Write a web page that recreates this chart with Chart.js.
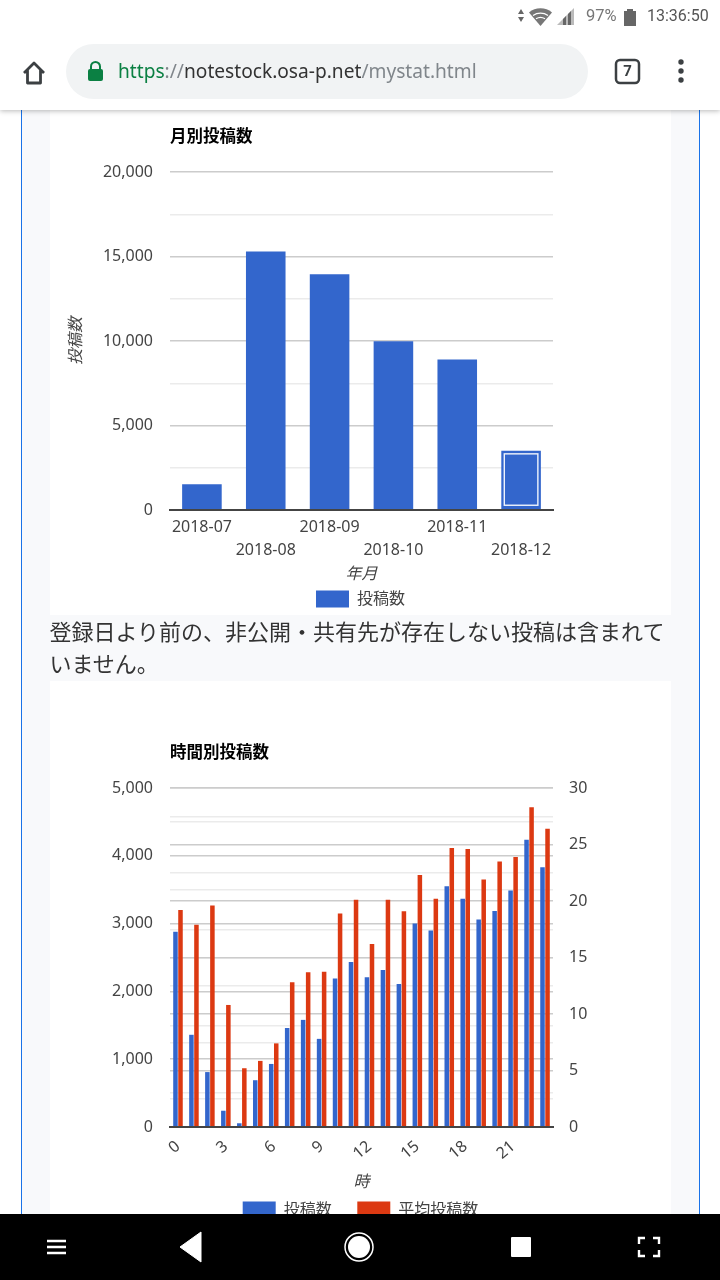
<!DOCTYPE html>
<html lang="ja">
<head>
<meta charset="utf-8">
<script src="https://cdn.jsdelivr.net/npm/chart.js@4"></script>
<style>
html,body{margin:0;padding:0;width:720px;height:1280px;overflow:hidden;background:#fff;font-family:"Noto Sans","Noto Sans CJK JP",sans-serif}
.abs{position:absolute}
#panel{left:21px;top:110px;width:677px;height:1104px;background:#f8f9fb;border-left:1.5px solid #1a73e8;border-right:1.5px solid #1a73e8}
.card{position:absolute;background:#fff;left:50px;width:621px}
#c1{left:50px;top:110px;width:621px;height:520px}
#c2{left:50px;top:681px;width:621px;height:560px}
canvas{display:block}
#para{left:49.500px;top:614px;width:622px;font:22px/32px "Noto Sans CJK JP",sans-serif;color:#333;white-space:nowrap}
#top{left:0;top:0;width:720px;height:110px;background:#fff;box-shadow:0 1px 5px rgba(0,0,0,.28);z-index:5}
#pill{left:66px;top:44px;width:522px;height:55px;border-radius:28px;background:#f1f3f4}
#url{left:118px;top:57px;font:19.15px/28px "Noto Sans",sans-serif;color:#333;white-space:nowrap}
#nav{left:0;top:1214px;width:720px;height:66px;background:#000;z-index:5}
</style>
</head>
<body>
<div class="abs" id="panel"></div>
<div class="card" style="top:110px;height:505px"></div>
<div class="card" style="top:681px;height:533px"></div>
<div class="abs" id="c1"><canvas id="monthly" width="621" height="520"></canvas></div>
<div class="abs" id="c2"><canvas id="hourly" width="621" height="560"></canvas></div>
<div class="abs" id="para">登録日より前の、非公開・共有先が存在しない投稿は含まれて<br>いません。</div>

<div class="abs" id="top">
  <div class="abs" id="pill"></div>
  <svg class="abs" style="left:0;top:0" width="720" height="110" fill="none">
    <path d="M518 14l3-5 3 5zM518 17l3 5 3-5z" fill="#666"/>
    <path d="M529 12.5a18 18 0 0 1 23 0l-11.5 13.5z" fill="#777"/>
    <path d="M533 15.5a13 13 0 0 1 15 0M536 18.8a8 8 0 0 1 9 0" stroke="#fff" stroke-width="1.2"/>
    <path d="M557 25l17-17v17z" fill="#bbb"/><path d="M563 25v-6l3-3v9zM568 25v-11l3-3v14z" fill="#666"/>
    <path d="M624 11h3v-2h6v2h3v15h-12z" fill="#666"/>
    <path d="M24 72l10-10 10 10M27.500 69v13h13v-13" stroke="#3c4043" stroke-width="2.800" stroke-linejoin="round" transform="translate(0,1)"/>
    <rect x="88" y="69" width="15" height="12" rx="2" fill="#0b8043"/>
    <path d="M91 70v-3.500a4.500 4.500 0 0 1 9 0v3.500" stroke="#0b8043" stroke-width="2"/>
    <rect x="616" y="60" width="23" height="23" rx="4" stroke="#3c4043" stroke-width="2.500"/>
    <circle cx="681" cy="62" r="2.700" fill="#3c4043"/><circle cx="681" cy="71" r="2.700" fill="#3c4043"/><circle cx="681" cy="80" r="2.700" fill="#3c4043"/>
  </svg>
  <div class="abs" style="left:586px;top:6px;font:16.5px/20px Roboto,sans-serif;color:#777">97%</div>
  <div class="abs" style="left:647px;top:6px;font:16px/20px Roboto,sans-serif;color:#555">13:36:50</div>
  <div class="abs" id="url"><span style="color:#0b8043">https</span><span style="color:#80868b">://</span>notestock.osa-p.net<span style="color:#80868b">/mystat.html</span></div>
  <div class="abs" style="left:616px;top:60px;width:23px;text-align:center;font:bold 15px/23px Roboto,sans-serif;color:#3c4043">7</div>
</div>

<div class="abs" id="nav">
  <svg width="720" height="66" fill="none">
    <path d="M47 27h19M47 33h19M47 39h19" stroke="#fff" stroke-width="2.400"/>
    <path d="M180 33l21-15v30z" fill="#fff" stroke="#fff" stroke-width="1" stroke-linejoin="round"/>
    <circle cx="359" cy="33" r="14" stroke="#fff" stroke-width="1.500"/><circle cx="359" cy="33" r="11" fill="#fff"/>
    <rect x="511" y="23" width="20" height="20" rx="1" fill="#fff"/>
    <path d="M639 30v-6h6M653 24h6v6M659 36v6h-6M645 42h-6v-6" stroke="#fff" stroke-width="2.400"/>
  </svg>
</div>

<script>
const monthLabels = ['2018-07','2018-08','2018-09','2018-10','2018-11','2018-12'];
const monthlyPosts = [1530,15300,13950,9980,8900,3500];
const monthlyTicks = [0,5000,10000,15000,20000];

const hourLabels = ['0','1','2','3','4','5','6','7','8','9','10','11','12','13','14','15','16','17','18','19','20','21','22','23'];
const hourlyPosts = [2880,1360,810,240,55,690,930,1460,1580,1300,2190,2435,2210,2315,2110,3000,2900,3550,3365,3060,3185,3490,4235,3830];
const hourlyAverage = [19.2,17.9,19.6,10.8,5.2,5.85,7.4,12.8,13.7,13.75,18.9,20.1,16.2,20.1,19.1,22.3,20.2,24.7,24.6,21.9,23.5,23.9,28.3,26.4];

const BLUE = '#3366cc', RED = '#dc3912';
const FONT = '"Noto Sans","Noto Sans CJK JP",sans-serif';
const MAJOR = '#cccccc', MINOR = '#ebebeb', TEXT = '#444444';

Chart.defaults.font.family = FONT;
Chart.defaults.color = TEXT;
Chart.defaults.animation = false;
Chart.defaults.responsive = false;

const alignTitle = {
  id: 'alignTitle',
  afterLayout(chart) {
    if (chart.titleBlock) chart.titleBlock.left = chart.chartArea.left;
  }
};
const highlightLast = {
  id: 'highlightLast',
  afterDatasetsDraw(chart) {
    const meta = chart.getDatasetMeta(0);
    const b = meta.data[meta.data.length - 1];
    const w = b.width, ctx = chart.ctx;
    ctx.save();
    ctx.strokeStyle = '#f0f4fc'; ctx.lineWidth = 1.4;
    ctx.strokeRect(b.x - w/2 + 3, b.y + 3, w - 6, b.base - b.y - 7);
    ctx.restore();
  }
};

function gridColor(step) {
  return c => (Math.round(c.tick.value / step) % 2 === 0) ? MAJOR : MINOR;
}
function legendOpts(padding, extra) {
  return {
    position: 'bottom',
    labels: {
      boxWidth: 33, boxHeight: 17, padding, color: TEXT, font: { size: 16 },
      generateLabels(chart) {
        const items = Chart.defaults.plugins.legend.labels.generateLabels(chart);
        items.forEach((it, i) => { if (i < items.length - 1) it.text += extra; });
        return items;
      }
    }
  };
}
function titleOpts(text, pad) {
  return { display: true, text, align: 'start', color: '#000000',
           font: { size: 16.5, weight: 'bold' }, padding: pad };
}

new Chart(document.getElementById('monthly'), {
  type: 'bar',
  plugins: [alignTitle, highlightLast],
  data: {
    labels: monthLabels,
    datasets: [{ label: '投稿数', data: monthlyPosts, backgroundColor: BLUE,
                 categoryPercentage: 0.62, barPercentage: 1, yAxisID: 'y' }]
  },
  options: {
    layout: { padding: { left: 0, right: 0, top: 17, bottom: 12.5 } },
    plugins: { legend: legendOpts(4, ''), title: titleOpts('月別投稿数', { top: 0, bottom: 25.2 }), tooltip: { enabled: false } },
    scales: {
      x: {
        grid: { display: false, drawTicks: false },
        border: { color: '#444444', width: 2, z: 1 },
        ticks: { maxRotation: 0, minRotation: 0, autoSkip: false, padding: 6,
                 font: { size: 16, lineHeight: 1.44 }, color: TEXT,
                 callback(v, i) { const s = monthLabels[i]; return i % 2 ? ['', s] : [s]; } },
        title: { display: true, text: '年月', color: TEXT, font: { size: 16, style: 'italic' }, padding: { top: 2, bottom: 2 } },
        afterFit(s) { s.height = 76.5; }
      },
      y: {
        min: 0, max: 20000,
        grid: { color: gridColor(2500), lineWidth: 1.5, drawTicks: false },
        border: { display: false },
        ticks: { stepSize: 2500, autoSkip: false, padding: 17, font: { size: 16 }, color: TEXT,
                 callback(v) { return monthlyTicks.includes(v) ? v.toLocaleString('en-US') : ''; } },
        title: { display: true, text: '投稿数', color: TEXT, font: { size: 16, style: 'italic' }, padding: { top: 17, bottom: 0 } },
        afterFit(s) { s.width = 120; }
      },
      yRight: {
        position: 'right',
        grid: { display: false, drawTicks: false },
        border: { display: false },
        ticks: { display: false },
        afterFit(s) { s.width = 118; }
      }
    }
  }
});

new Chart(document.getElementById('hourly'), {
  type: 'bar',
  plugins: [alignTitle],
  data: {
    labels: hourLabels,
    datasets: [
      { label: '投稿数', data: hourlyPosts, backgroundColor: BLUE, yAxisID: 'y',
        categoryPercentage: 0.63, barPercentage: 0.9 },
      { label: '平均投稿数', data: hourlyAverage, backgroundColor: RED, yAxisID: 'y1',
        categoryPercentage: 0.63, barPercentage: 0.9 }
    ]
  },
  options: {
    layout: { padding: { left: 0, right: 0, top: 62, bottom: 12.5 } },
    plugins: { legend: legendOpts(8, '\u3000\u200a'), title: titleOpts('時間別投稿数', { top: 0, bottom: 25.2 }), tooltip: { enabled: false } },
    scales: {
      x: {
        grid: { display: false, drawTicks: false },
        border: { color: '#444444', width: 2, z: 1 },
        ticks: { maxRotation: 40, minRotation: 40, autoSkip: false, padding: 10,
                 font: { size: 16 }, color: TEXT,
                 callback(v, i) { return i % 3 === 0 ? hourLabels[i] : ''; } },
        title: { display: true, text: '時', color: TEXT, font: { size: 16, style: 'italic' }, padding: { top: 2, bottom: 1 } },
        afterFit(s) { s.height = 66.5; }
      },
      y: {
        position: 'left', min: 0, max: 5000,
        grid: { color: gridColor(500), lineWidth: 1.5, drawTicks: false },
        border: { display: false },
        ticks: { stepSize: 500, autoSkip: false, padding: 17, font: { size: 16 }, color: TEXT,
                 callback(v) { return v % 1000 === 0 ? v.toLocaleString('en-US') : ''; } },
        afterFit(s) { s.width = 120; }
      },
      y1: {
        position: 'right', min: 0, max: 30,
        grid: { color: gridColor(2.5), lineWidth: 1.5, drawTicks: false },
        border: { display: false },
        ticks: { stepSize: 2.5, autoSkip: false, padding: 16, font: { size: 16 }, color: TEXT,
                 callback(v) { return v % 5 === 0 ? String(v) : ''; } },
        afterFit(s) { s.width = 118; }
      }
    }
  }
});
</script>
</body>
</html>
